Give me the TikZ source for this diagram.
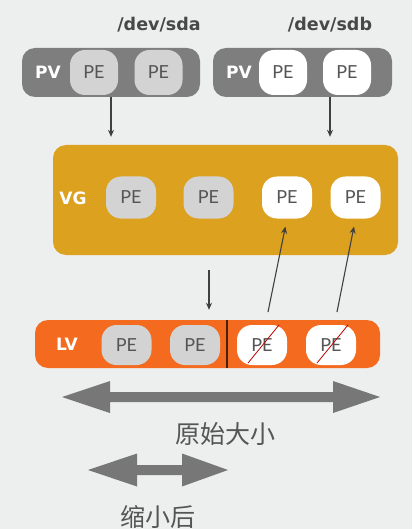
\documentclass[tikz,border=0pt]{standalone}
\usepackage{fontspec}
\setmainfont{Lato}
\newfontfamily\labelfont{DejaVu Sans}
\newfontfamily\cjk{Noto Sans CJK SC}
\usetikzlibrary{arrows.meta}
\definecolor{bggray}{HTML}{EDEFEF}
\definecolor{pvgray}{HTML}{7E7E7E}
\definecolor{pegray}{HTML}{D3D3D3}
\definecolor{vggold}{HTML}{DBA11F}
\definecolor{lvorange}{HTML}{F46A1F}
\definecolor{txtgray}{HTML}{555555}
\definecolor{arrgray}{HTML}{777777}

\begin{document}
\begin{tikzpicture}[x=1pt,y=-1pt,
        pebox/.style={rectangle,rounded corners=15pt,minimum width=50pt,minimum height=42pt,inner sep=0pt,text=txtgray,font=\fontsize{18}{18}\selectfont},
        usedpe/.style={pebox,fill=pegray},
        freepe/.style={pebox,fill=white},
        volbox/.style={rectangle,rounded corners=13pt,inner sep=0pt},
        volname/.style={text=white,font=\labelfont\fontsize{17}{17}\selectfont\bfseries},
        devname/.style={text=txtgray!85!black,font=\labelfont\fontsize{17.5}{17.5}\selectfont\bfseries},
        link/.style={draw=black!75,line width=1.1pt,-{Stealth[length=7pt,width=6pt]}},
        cross/.style={draw=red!75!black,line width=0.8pt},
        sizetext/.style={text=txtgray,font=\cjk\fontsize{25}{25}\selectfont}]
        \fill[bggray] (0,0) rectangle (412,529);
        \useasboundingbox (0,0) rectangle (412,529);

        \node[devname] (sda) at (159,25) {/dev/sda};
        \node[devname] (sdb) at (330,25) {/dev/sdb};

        \node[volbox,fill=pvgray,minimum width=178pt,minimum height=49pt] (pva) at (111,72.5) {};
        \node[volbox,fill=pvgray,minimum width=179pt,minimum height=49pt] (pvb) at (302.5,72.5) {};
        \node[volname] (pvaname) at (48,72) {PV};
        \node[volname] (pvbname) at (239,72) {PV};
        \node[usedpe,minimum width=48pt,minimum height=45pt] (pa1) at (94,72.5) {PE};
        \node[usedpe,minimum width=48pt,minimum height=45pt] (pa2) at (158.5,72.5) {PE};
        \node[freepe,minimum width=48pt,minimum height=45pt] (pb1) at (283,72.5) {PE};
        \node[freepe,minimum width=48pt,minimum height=45pt] (pb2) at (347,72.5) {PE};

        \node[volbox,fill=vggold,minimum width=345pt,minimum height=110pt] (vg) at (225.5,200) {};
        \node[volname] (vgname) at (73,198) {VG};
        \node[usedpe] (vpe1) at (131,197.5) {PE};
        \node[usedpe] (vpe2) at (208.5,197.5) {PE};
        \node[freepe] (vpe3) at (287,197.5) {PE};
        \node[freepe] (vpe4) at (355.5,197.5) {PE};

        \node[volbox,fill=lvorange,minimum width=345pt,minimum height=48pt] (lv) at (207.5,344) {};
        \node[volname] (lvname) at (67,344) {LV};
        \node[usedpe,minimum height=40pt] (lpe1) at (126.5,345) {PE};
        \node[usedpe,minimum height=40pt] (lpe2) at (195,345) {PE};
        \node[freepe,minimum height=40pt] (lpe3) at (262,345) {PE};
        \node[freepe,minimum height=40pt] (lpe4) at (331,345) {PE};
        \draw[black!70!lvorange,line width=1.2pt] (227,320) -- (227,368);
        \draw[cross] ([shift={(-14,18)}]lpe3.center) -- ([shift={(17,-20)}]lpe3.center);
        \draw[cross] ([shift={(-14,18)}]lpe4.center) -- ([shift={(17,-20)}]lpe4.center);

        \coordinate (da) at (111,97);
        \coordinate (db) at (330,97);
        \coordinate (dv) at (209,255);
        \coordinate (u3) at (268,312);
        \coordinate (u4) at (337,312);
        \draw[link,shorten >=8pt] (da) -- (da |- vg.north);
        \draw[link,shorten >=8pt] (db) -- (db |- vg.north);
        \draw[link,shorten <=15pt,shorten >=10pt] (dv) -- (dv |- lv.north);
        \draw[link,shorten >=8pt] (u3) -- (vpe3.south);
        \draw[link,shorten >=8pt] (u4) -- (vpe4.south);

        \fill[arrgray] (62,397) -- (110,381) -- (110,392) -- (333,392) -- (333,381) -- (380,397)
            -- (333,413) -- (333,402) -- (110,402) -- (110,413) -- cycle;
        \node[sizetext] (orig) at (225,434) {原始大小};
        \fill[arrgray] (88,470) -- (137,453.5) -- (137,465) -- (182,465) -- (182,453.5) -- (228,470)
            -- (182,486.5) -- (182,475) -- (137,475) -- (137,486.5) -- cycle;
        \node[sizetext] (shrunk) at (158,517) {缩小后};
    \end{tikzpicture}
\end{document}
